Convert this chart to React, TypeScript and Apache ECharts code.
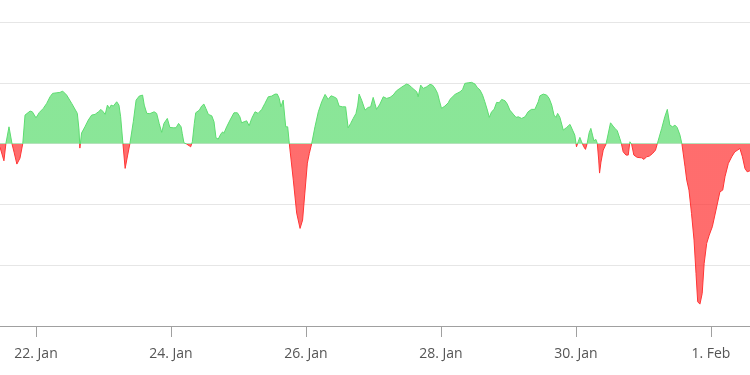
import React, { useEffect, useRef } from "react";
import * as echarts from "echarts";

// time in hours since 20 Jan 00:00
const hours: number[] = [
  35.2, 36.6, 37.3, 38.4, 39.5, 40.2, 41.2, 42.3, 43.3, 44.1, 45.9, 46.7, 48.0, 49.2, 50.6, 51.8, 53.0, 53.9, 55.4, 56.5,
  57.5, 58.9, 60.7, 62.7, 63.3, 63.6, 64.2, 65.4, 66.6, 67.8, 69.0, 70.2, 71.1, 71.9, 72.6, 73.4, 74.1, 74.7, 75.5, 76.7,
  77.5, 78.1, 78.8, 79.7, 80.6, 81.4, 82.6, 83.6, 84.7, 85.9, 86.5, 87.4, 88.5, 90.0, 90.9, 91.8, 92.7, 93.5, 94.7, 95.6,
  96.8, 97.8, 98.7, 99.6, 100.0, 100.6, 101.6, 102.5, 103.0, 103.6, 104.3, 104.8, 106.1, 106.9, 107.7, 108.4, 109.3, 110.5, 111.3, 112.0,
  112.8, 113.7, 114.4, 114.8, 115.8, 117.0, 118.4, 119.6, 120.5, 121.1, 122.0, 122.9, 123.8, 124.7, 125.9, 127.0, 128.3, 129.4, 130.6, 131.8,
  133.0, 133.8, 134.5, 135.1, 135.9, 136.8, 137.5, 138.1, 139.5, 140.7, 141.9, 142.8, 143.6, 144.5, 145.2, 146.0, 147.2, 148.4, 149.6, 150.8,
  151.9, 152.9, 153.9, 154.9, 155.8, 157.0, 158.1, 159.0, 159.9, 160.8, 161.8, 162.4, 162.9, 163.8, 165.0, 166.1, 167.0, 167.9, 168.5, 169.1,
  170.3, 171.5, 172.7, 173.9, 175.0, 176.2, 177.4, 178.6, 179.8, 180.7, 181.6, 182.4, 183.4, 183.9, 184.8, 185.7, 186.9, 188.1, 189.0, 189.9,
  190.8, 191.4, 192.2, 193.4, 194.6, 195.2, 197.0, 198.8, 199.7, 200.5, 201.7, 202.9, 204.1, 204.9, 205.9, 206.8, 207.6, 208.5, 209.2, 210.0,
  210.9, 211.8, 212.7, 213.6, 214.8, 215.6, 216.5, 217.7, 218.7, 219.5, 220.7, 221.9, 223.0, 224.2, 225.4, 226.6, 227.2, 228.4, 229.6, 230.5,
  231.4, 232.2, 232.9, 233.5, 234.3, 235.5, 236.7, 237.9, 238.8, 239.6, 240.2, 240.8, 241.4, 242.0, 242.8, 243.4, 244.0, 244.7, 245.3, 245.9,
  246.4, 247.1, 247.6, 248.1, 248.4, 248.9, 249.7, 250.7, 252.3, 253.2, 253.9, 254.7, 255.6, 256.2, 256.8, 257.8, 258.6, 259.2, 259.8, 260.6,
  261.8, 263.4, 264.2, 265.1, 266.1, 267.3, 268.3, 268.9, 270.5, 271.6, 272.5, 273.4, 274.4, 275.2, 276.0, 277.0, 277.7, 278.8, 279.4, 280.2,
  281.1, 282.0, 282.7, 283.3, 284.1, 284.9, 285.6, 286.5, 287.4, 288.5, 289.8, 291.2, 292.2, 293.0, 294.2, 295.4, 296.5, 297.5, 298.3, 299.2,
  300.1, 300.9, 301.9,
];

const values: number[] = [
  -0.058, -0.283, 0, 0.276, -0.01, -0.14, -0.337, -0.24, 0, 0.469, 0.535, 0.523, 0.424, 0.513, 0.579, 0.661, 0.77, 0.826, 0.836, 0.842,
  0.863, 0.798, 0.661, 0.497, 0.222, -0.074, 0.173, 0.276, 0.387, 0.469, 0.48, 0.523, 0.562, 0.523, 0.48, 0.633, 0.579, 0.633, 0.617, 0.688,
  0.633, 0.441, 0.058, -0.408, -0.189, 0, 0.359, 0.715, 0.781, 0.798, 0.633, 0.497, 0.493, 0.523, 0.497, 0.332, 0.184, 0.332, 0.414, 0.266,
  0.26, 0.26, 0.332, 0.276, 0.168, 0.013, -0.008, -0.036, -0.053, 0.03, 0.332, 0.507, 0.551, 0.617, 0.65, 0.579, 0.48, 0.457, 0.359, 0.095,
  0.074, 0.156, 0.194, 0.168, 0.276, 0.387, 0.507, 0.507, 0.441, 0.342, 0.359, 0.375, 0.293, 0.414, 0.523, 0.497, 0.563, 0.661, 0.77, 0.781,
  0.814, 0.814, 0.743, 0.605, 0.715, 0.276, 0.276, -0.008, -0.6, -1.143, -1.395, -1.258, -0.814, -0.321, -0.161, -0.008, 0.276, 0.523, 0.688, 0.809,
  0.727, 0.786, 0.77, 0.743, 0.617, 0.605, 0.605, 0.26, 0.332, 0.414, 0.497, 0.633, 0.814, 0.715, 0.551, 0.595, 0.605, 0.76, 0.661, 0.562,
  0.65, 0.77, 0.743, 0.76, 0.798, 0.868, 0.908, 0.946, 0.979, 0.962, 0.924, 0.891, 0.852, 0.77, 0.962, 0.908, 0.934, 0.974, 0.962, 0.908,
  0.826, 0.715, 0.579, 0.617, 0.671, 0.727, 0.809, 0.852, 0.891, 0.99, 1.0, 1.007, 0.979, 0.924, 0.88, 0.798, 0.688, 0.551, 0.431, 0.523,
  0.563, 0.678, 0.671, 0.727, 0.704, 0.65, 0.551, 0.485, 0.431, 0.441, 0.414, 0.441, 0.523, 0.563, 0.563, 0.688, 0.786, 0.814, 0.798, 0.743,
  0.633, 0.469, 0.431, 0.497, 0.431, 0.222, 0.266, 0.316, 0.222, 0.14, -0.053, 0.03, 0.102, 0.03, -0.053, -0.095, 0.003, 0.178, 0.25, 0.14,
  0.046, 0.069, 0.003, -0.271, -0.485, -0.304, -0.107, -0.008, 0.342, 0.288, 0.25, 0.211, 0.086, -0.008, -0.135, -0.189, -0.189, 0.03, -0.008, -0.189,
  -0.227, -0.234, -0.26, -0.217, -0.206, -0.161, -0.107, -0.008, 0.25, 0.441, 0.563, 0.304, 0.276, 0.304, 0.266, 0.14, -0.008, -0.382, -0.6, -0.765,
  -1.148, -1.587, -2.135, -2.602, -2.64, -2.464, -1.97, -1.641, -1.505, -1.368, -1.094, -0.793, -0.765, -0.546, -0.326, -0.217, -0.135, -0.107, -0.079, -0.217,
  -0.408, -0.464, -0.447,
];

const tickHours: number[] = [48, 96, 144, 192, 240, 288];
const tickLabels: string[] = ["22. Jan", "24. Jan", "26. Jan", "28. Jan", "30. Jan", "1. Feb"];

export default function App() {
  const ref = useRef<HTMLDivElement>(null);
  useEffect(() => {
    if (!ref.current) return;
    const chart = echarts.init(ref.current, undefined, { renderer: "svg" });
    const data = hours.map((h, i) => [h, values[i]]);
    chart.setOption({
      animation: false,
      grid: { left: 0, right: 0, top: 22, bottom: 49 },
      xAxis: {
        type: "value",
        min: 35.2,
        max: 301.9,
        axisLine: { show: true, onZero: false, lineStyle: { color: "#a0a0a0", width: 1 } },
        axisTick: { show: true, length: 11, lineStyle: { color: "#a0a0a0" }, customValues: tickHours },
        axisLabel: {
          customValues: tickHours,
          margin: 19,
          fontSize: 14,
          fontFamily: "Open Sans",
          color: "#555",
          formatter: (v: number) => {
            const i = tickHours.indexOf(Math.round(v));
            return i >= 0 ? tickLabels[i] : "";
          },
        },
        splitLine: { show: false },
      },
      yAxis: {
        type: "value",
        min: -3,
        max: 2,
        interval: 1,
        axisLabel: { show: false },
        axisLine: { show: false },
        axisTick: { show: false },
        splitLine: { lineStyle: { color: "#e6e6e6", width: 1 } },
      },
      visualMap: {
        type: "piecewise",
        show: false,
        dimension: 1,
        pieces: [
          { gt: -10, lte: 0, color: "#ff3535" },
          { gt: 0, lte: 10, color: "#5ddc70" },
        ],
        outOfRange: { color: "#999" },
      },
      series: [
        {
          type: "line",
          data,
          symbol: "none",
          lineStyle: { width: 1 },
          areaStyle: { opacity: 0.72 },
        },
      ],
    });
    return () => chart.dispose();
  }, []);
  return (
    <div
      ref={ref}
      style={{ position: "fixed", left: 0, top: 0, width: 750, height: 375 }}
    />
  );
}
